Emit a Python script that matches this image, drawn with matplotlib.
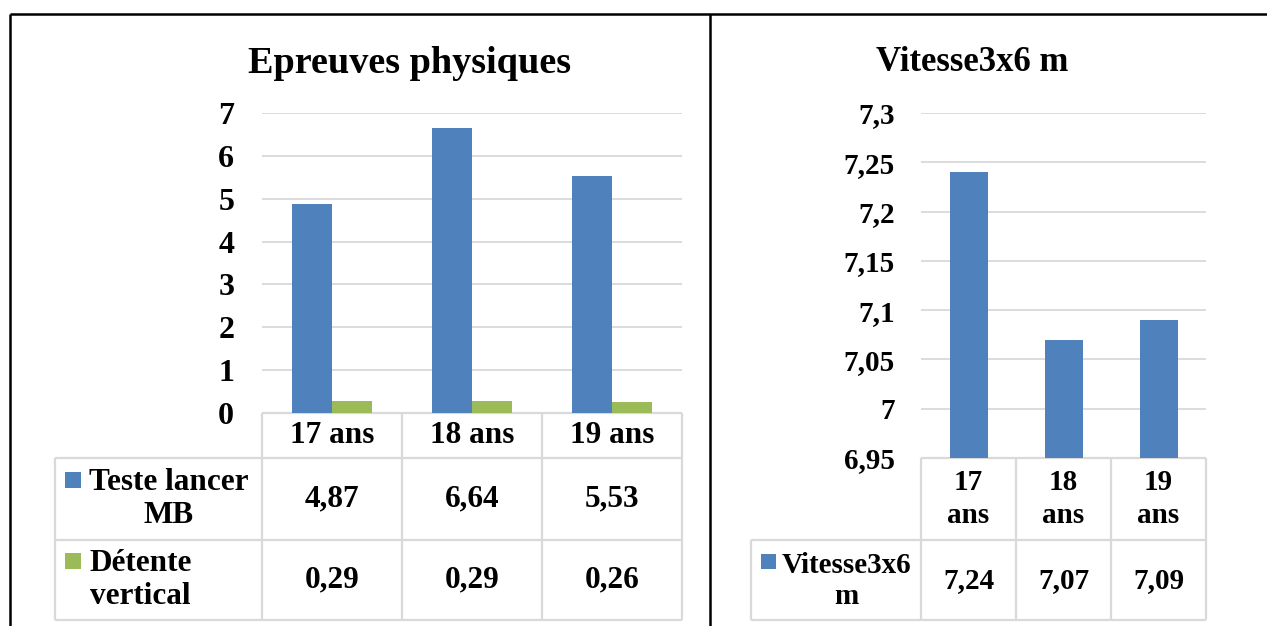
import numpy as np
import matplotlib
matplotlib.use('Agg')
import matplotlib.pyplot as plt
from matplotlib.patches import Rectangle
from matplotlib.ticker import FuncFormatter

# data
ages = ['17 ans', '18 ans', '19 ans']
lancer_mb = [4.87, 6.64, 5.53]     # Teste lancer MB
detente = [0.29, 0.29, 0.26]       # Détente vertical
vitesse = [7.24, 7.07, 7.09]       # Vitesse3x6 m
left_ticks = [0, 1, 2, 3, 4, 5, 6, 7]
right_ticks = [6.95, 7.0, 7.05, 7.1, 7.15, 7.2, 7.25, 7.3]

blue = '#4F81BD'
green = '#9BBB59'
grid_c = '#D9D9D9'

plt.rcParams['font.family'] = ['Liberation Serif', 'DejaVu Serif']
plt.rcParams['font.weight'] = 'bold'

W, H = 1267, 626
fig = plt.figure(figsize=(W / 100, H / 100), dpi=100)

# overlay in pixel coords for borders, titles and data tables
bg = fig.add_axes([0, 0, 1, 1])
bg.set_xlim(0, W)
bg.set_ylim(H, 0)
bg.axis('off')


def comma(v, fmt='%g'):
    return (fmt % v).replace('.', ',')


def chart_axes(x0, x1, y0, y1):
    a = fig.add_axes([x0 / W, 1 - y1 / H, (x1 - x0) / W, (y1 - y0) / H])
    a.set_facecolor('none')
    for s in a.spines.values():
        s.set_visible(False)
    a.yaxis.grid(True, color=grid_c, lw=1.3)
    a.set_axisbelow(True)
    a.set_xticks([])
    a.set_xlim(-0.5, 2.5)
    a.yaxis.set_major_formatter(FuncFormatter(lambda v, p: comma(round(v, 2))))
    return a


def gline(xs, ys, c=grid_c, lw=1.6):
    bg.plot(xs, ys, color=c, lw=lw, solid_capstyle='butt')


x = np.arange(len(ages))

# ---- left chart: Epreuves physiques ----
ax1 = chart_axes(262, 682, 113, 413)
ax1.bar(x - 0.143, lancer_mb, 0.286, color=blue)
ax1.bar(x + 0.143, detente, 0.286, color=green)
ax1.set_ylim(0, 7)
ax1.set_yticks(left_ticks)
ax1.tick_params(axis='y', length=0, pad=20, labelsize=23)
bg.text(409, 73, 'Epreuves physiques', ha='center', va='baseline', fontsize=27.5)

cols_l = [262, 402, 542, 682]
for xv in cols_l:
    gline([xv, xv], [413, 620])
gline([262, 682], [413, 413])
for yv in [458, 540, 620]:
    gline([55, 682], [yv, yv])
gline([55, 55], [458, 620])

for i, lab in enumerate(ages):
    xc = (cols_l[i] + cols_l[i + 1]) / 2
    bg.text(xc, 435.5, lab, ha='center', va='center', fontsize=22.5)
    bg.text(xc, 499, comma(lancer_mb[i], '%.2f'), ha='center', va='center', fontsize=22.5)
    bg.text(xc, 580, comma(detente[i], '%.2f'), ha='center', va='center', fontsize=22.5)

for yc, name, col in [(499, 'Teste lancer\nMB', blue), (580, 'Détente\nvertical', green)]:
    bg.add_patch(Rectangle((65, yc - 27), 16, 16, color=col, lw=0))
    bg.text(89, yc, name, ha='left', va='center', multialignment='center',
            fontsize=22.5, linespacing=1.15)

# ---- right chart: Vitesse3x6 m ----
ax2 = chart_axes(921, 1206, 113, 458)
ax2.bar(x, vitesse, 0.4, color=blue)
ax2.set_ylim(6.95, 7.3)
ax2.set_yticks(right_ticks)
ax2.tick_params(axis='y', length=0, pad=19, labelsize=21)
bg.text(972, 71, 'Vitesse3x6 m', ha='center', va='baseline', fontsize=25)

cols_r = [921, 1016, 1111, 1206]
for xv in cols_r:
    gline([xv, xv], [458, 620])
gline([921, 1206], [458, 458])
for yv in [540, 620]:
    gline([751, 1206], [yv, yv])
gline([751, 751], [540, 620])

for i, lab in enumerate(ages):
    xc = (cols_r[i] + cols_r[i + 1]) / 2
    bg.text(xc, 499, lab.replace(' ', '\n'), ha='center', va='center',
            fontsize=21, linespacing=1.25)
    bg.text(xc, 581, comma(vitesse[i], '%.2f'), ha='center', va='center', fontsize=21)

bg.add_patch(Rectangle((761, 580 - 26), 15, 15, color=blue, lw=0))
bg.text(782, 581, 'Vitesse3x6\nm', ha='left', va='center', multialignment='center',
        fontsize=21, linespacing=1.2)

# outer page borders
gline([10, W], [14, 14], c='black', lw=1.8)
gline([10, 10], [14, H], c='black', lw=1.8)
gline([710, 710], [14, H], c='black', lw=1.8)

fig.savefig('out.png', dpi=100)
